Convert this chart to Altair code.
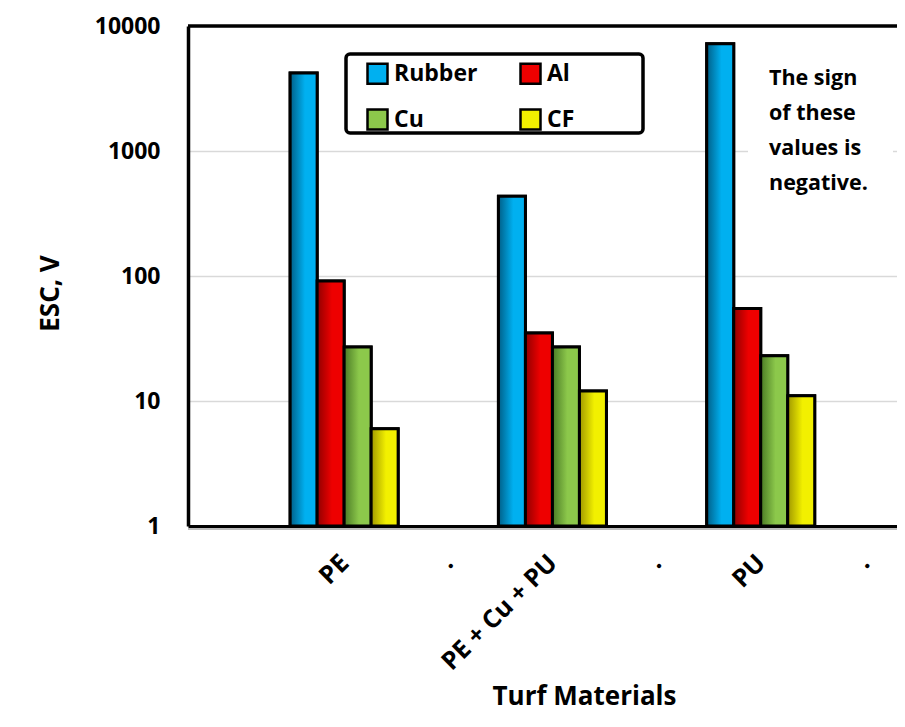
import json
import altair as alt
import pandas as pd

# ---- data ----
cat_keys = ["c0", "c1", "c2", "c3", "c4", "c5", "c6"]
cat_labels = ["", "PE", ".", "PE + Cu + PU", ".", "PU", "."]
group_keys = ["c1", "c3", "c5"]          # PE, PE + Cu + PU, PU
series = ["Rubber", "Al", "Cu", "CF"]
rubber = [4200, 435, 7200]
al = [91, 35, 55]
cu = [27, 27, 23]
cf = [6, 12, 11]
y_ticks = [1, 10, 100, 1000, 10000]
note_lines = ["The sign", "of these", "values is", "negative."]

colors = ["#00b0f0", "#ee0000", "#8cc84b", "#f2f000"]
darks = ["#005f88", "#900000", "#4a7a25", "#a09800"]

vals = {"Rubber": rubber, "Al": al, "Cu": cu, "CF": cf}
rows = []
for gi, g in enumerate(group_keys):
    for s in series:
        rows.append({"cat": g, "series": s, "value": vals[s][gi], "base": 1})
df = pd.DataFrame(rows)

W, H = 709, 500
FONT = "Open Sans"

label_expr = f"{json.dumps(cat_labels)}[indexof({json.dumps(cat_keys)}, datum.value)]"

x_enc = alt.X(
    "cat:N",
    scale=alt.Scale(domain=cat_keys, range=[0, 729], paddingInner=0, paddingOuter=0),
    axis=alt.Axis(
        labelExpr=label_expr, labelAngle=-45, labelFontSize=25, labelFontWeight="bold",
        labelColor="black", labelPadding=24, labelOffset=-8, ticks=False, tickSize=0,
        domainColor="black", domainWidth=3, grid=False,
        title="Turf Materials", titleFontSize=26, titleFontWeight="bold", titleColor="black",
        titleX=396, titleY=178, titleBaseline="alphabetic", titleAlign="center",
    ),
)
xoff = alt.XOffset("series:N", scale=alt.Scale(domain=series, range=[-2, 106], paddingInner=0, paddingOuter=0))
y_enc = alt.Y(
    "value:Q",
    scale=alt.Scale(type="log", domain=[1, 10000]),
    axis=alt.Axis(
        values=y_ticks, format="d", labelFontSize=23, labelFontWeight="bold", labelColor="black",
        labelPadding=28, ticks=False, tickSize=0, domainColor="black", domainWidth=3.5,
        gridColor="#d9d9d9", gridWidth=1.5,
        title="ESC, V", titleFontSize=26, titleFontWeight="bold", titleColor="black",
        titleX=-130, titleY=267, titleBaseline="alphabetic", titleAlign="center", titleAngle=270,
    ),
)

base = alt.Chart(df)

white_box = alt.Chart(pd.DataFrame({"a": [0]})).mark_rect(fill="white").encode(
    x=alt.value(560), x2=alt.value(705), y=alt.value(34), y2=alt.value(174)
)

solid = base.mark_bar(stroke="black", strokeWidth=3).encode(
    x=x_enc, xOffset=xoff, y=y_enc, y2="base:Q",
    color=alt.Color(
        "series:N",
        scale=alt.Scale(domain=series, range=colors),
        legend=alt.Legend(
            orient="none", legendX=178, legendY=36, columns=2, direction="horizontal", title=None,
            symbolType="square", symbolSize=400, symbolStrokeColor="black", symbolStrokeWidth=2.5,
            labelFontSize=23, labelFontWeight="bold", labelColor="black", labelOffset=5,
            columnPadding=37, rowPadding=15, padding=0,
        ),
    ),
)

grad_layers = []
for i, s in enumerate(series):
    g = alt.Gradient(
        gradient="linear", x1=0, x2=1, y1=0, y2=0,
        stops=[
            alt.GradientStop(color=darks[i], offset=0),
            alt.GradientStop(color=colors[i], offset=0.55),
            alt.GradientStop(color=colors[i], offset=1),
        ],
    )
    grad_layers.append(
        base.transform_filter(alt.datum.series == s)
        .mark_bar(fill=g, stroke="black", strokeWidth=3)
        .encode(x=x_enc, xOffset=xoff, y=y_enc, y2="base:Q")
    )

legend_box = alt.Chart(pd.DataFrame({"a": [0]})).mark_rect(
    fill="white", stroke="black", strokeWidth=3.5, cornerRadius=4
).encode(x=alt.value(158), x2=alt.value(455), y=alt.value(28), y2=alt.value(107))

note = alt.Chart(pd.DataFrame({"t": [note_lines]})).mark_text(
    align="left", baseline="alphabetic", fontSize=21.5, fontWeight="bold", color="black",
    lineHeight=35, font=FONT,
).encode(x=alt.value(581), y=alt.value(59), text="t")

top_rule = alt.Chart(pd.DataFrame({"a": [0]})).mark_rule(color="black", strokeWidth=3.5).encode(
    x=alt.value(0), x2=alt.value(W), y=alt.value(0)
)
bottom_shadow = alt.Chart(pd.DataFrame({"a": [0]})).mark_rule(color="#a6a6a6", strokeWidth=1.5).encode(
    x=alt.value(0), x2=alt.value(W), y=alt.value(H + 3)
)

chart = alt.layer(white_box, solid, *grad_layers, legend_box, note, top_rule, bottom_shadow).properties(
    width=W, height=H,
    autosize=alt.AutoSizeParams(type="none"),
    padding={"left": 180, "top": 18, "right": 0, "bottom": 187},
).configure(font=FONT).configure_view(stroke="transparent")

chart.save("out.html", embed_options={"renderer": "svg", "actions": False})
